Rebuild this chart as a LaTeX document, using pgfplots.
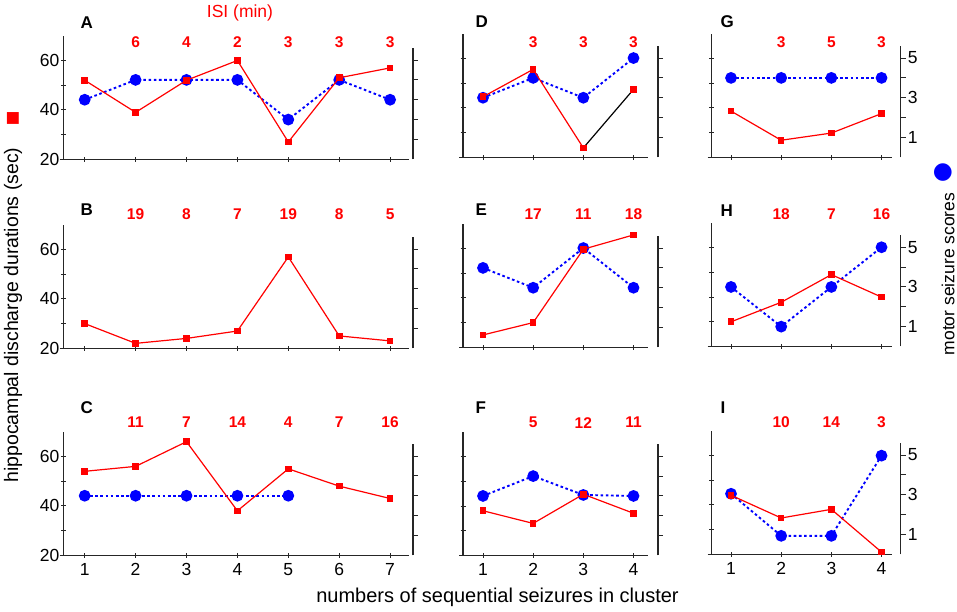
\documentclass[border=0pt]{standalone}
\usepackage{fontspec}
\setmainfont{Liberation Sans}
\newfontfamily\dejavu{DejaVu Sans}
\usepackage{pgfplots}
\pgfplotsset{compat=1.18}
\definecolor{myred}{RGB}{255,0,0}
\definecolor{myblue}{RGB}{0,0,255}
\pgfplotsset{
 base/.style={anchor=south west, clip=false,
   tick align=outside, major tick length=5pt,
   every tick/.style={line width=1pt, black!85},
   /pgf/number format/assume math mode=true,
   tick label style={font=\fontsize{17.5}{18}\selectfont},
 },
 lefts/.style={base, ymin=20, ymax=70, y=2.47pt,
   axis x line=bottom, axis y line=left,
   axis line style={-, line width=1.2pt, black!85},
   x axis line style={shorten <=-4pt},
   ytick={20,30,40,50,60}, yticklabels={20,,40,,60},
   yticklabel style={inner sep=1.5pt},
   xticklabel style={inner sep=5pt},
 },
 rights/.style={base, ymin=0, ymax=5.6, y=19.85pt,
   axis x line=none, axis y line*=right,
   axis line style={-, line width=1.2pt, black!85},
   ytick={1,2,3,4,5}, yticklabels={},
   yticklabel style={inner sep=2pt},
 },
 c1/.style={x=50.9pt, xmin=0.5835, xtick={1,...,7}},
 c2/.style={x=50.17pt, xmin=0.6014, xtick={1,...,4}, yticklabels={}},
 c3/.style={x=50.17pt, xmin=0.611, xtick={1,...,4}, yticklabels={}},
 nox/.style={xticklabels={}},
 redline/.style={myred, line width=1.2pt, mark=square*, mark size=2.7pt, mark options={solid}},
 blueline/.style={myblue, line width=1.9pt, dash pattern=on 2.6pt off 2.6pt, mark=*, mark size=4.9pt, mark options={solid}},
}
\tikzset{
 isi/.style={myred, font=\fontsize{15.5}{16}\selectfont\bfseries},
 letter/.style={anchor=west, font=\fontsize{17}{18}\selectfont\bfseries},
}
\begin{document}
\begin{tikzpicture}
\useasboundingbox (0pt,0pt) rectangle (957pt,612pt);

% ---------- A ----------
\begin{axis}[rights, c1, xmax=7.45, at={(63.5pt,452.7pt)}]
\addplot[blueline] coordinates {(1,3)(2,4)(3,4)(4,4)(5,2)(6,4)(7,3)};
\end{axis}
\begin{axis}[lefts, c1, nox, xmax=7.377, at={(63.5pt,452.7pt)}]
\addplot[redline] coordinates {(1,52)(2,39)(3,52)(4,60)(5,27)(6,53)(7,57)};
\node[isi] at (axis cs:2,67.3) {6};
\node[isi] at (axis cs:3,67.3) {4};
\node[isi] at (axis cs:4,67.3) {2};
\node[isi] at (axis cs:5,67.3) {3};
\node[isi] at (axis cs:6,67.3) {3};
\node[isi] at (axis cs:7,67.3) {3};
\end{axis}

% ---------- B ----------
\begin{axis}[rights, c1, xmax=7.45, at={(63.5pt,263.7pt)}]
\addplot[draw=none] coordinates {(1,0)};
\end{axis}
\begin{axis}[lefts, c1, nox, xmax=7.377, at={(63.5pt,263.7pt)}]
\addplot[redline] coordinates {(1,30)(2,22)(3,24)(4,27)(5,57)(6,25)(7,23)};
\node[isi] at (axis cs:2,74.4) {19};
\node[isi] at (axis cs:3,74.4) {8};
\node[isi] at (axis cs:4,74.4) {7};
\node[isi] at (axis cs:5,74.4) {19};
\node[isi] at (axis cs:6,74.4) {8};
\node[isi] at (axis cs:7,74.4) {5};
\end{axis}

% ---------- C ----------
\begin{axis}[rights, c1, xmax=7.45, at={(63.5pt,56.7pt)}]
\addplot[blueline] coordinates {(1,3)(2,3)(3,3)(4,3)(5,3)};
\end{axis}
\begin{axis}[lefts, c1, xmax=7.377, at={(63.5pt,56.7pt)}]
\addplot[redline] coordinates {(1,54)(2,56)(3,66)(4,38)(5,55)(6,48)(7,43)};
\node[isi] at (axis cs:2,73.7) {11};
\node[isi] at (axis cs:3,73.7) {7};
\node[isi] at (axis cs:4,73.7) {14};
\node[isi] at (axis cs:5,73.7) {4};
\node[isi] at (axis cs:6,73.7) {7};
\node[isi] at (axis cs:7,73.7) {16};
\end{axis}

% ---------- D ----------
\begin{axis}[rights, c2, xmax=4.488, at={(463pt,454.7pt)}]
\addplot[blueline] coordinates {(1,3)(2,4)(3,3)(4,5)};
\end{axis}
\begin{axis}[lefts, c2, nox, xmax=4.295, at={(463pt,454.7pt)}]
\addplot[black, line width=1.2pt] coordinates {(3,23.8)(4,47.5)};
\addplot[redline] coordinates {(1,44.5)(2,55.6)(3,23.8)};
\addplot[redline, only marks] coordinates {(4,47.5)};
\node[isi] at (axis cs:2,66.5) {3};
\node[isi] at (axis cs:3,66.5) {3};
\node[isi] at (axis cs:4,66.5) {3};
\end{axis}

% ---------- E ----------
\begin{axis}[rights, c2, xmax=4.488, at={(463pt,264.7pt)}]
\addplot[blueline] coordinates {(1,4)(2,3)(3,5)(4,3)};
\end{axis}
\begin{axis}[lefts, c2, nox, xmax=4.295, at={(463pt,264.7pt)}]
\addplot[redline] coordinates {(1,25)(2,30)(3,59.7)(4,65.5)};
\node[isi] at (axis cs:2,74) {17};
\node[isi] at (axis cs:3,74) {11};
\node[isi] at (axis cs:4,74) {18};
\end{axis}

% ---------- F ----------
\begin{axis}[rights, c2, xmax=4.488, at={(463pt,56.5pt)}]
\addplot[blueline] coordinates {(1,3)(2,4)(3,3.05)(4,3)};
\end{axis}
\begin{axis}[lefts, c2, xmax=4.295, at={(463pt,56.5pt)}]
\addplot[redline] coordinates {(1,38.1)(2,33)(3,44.8)(4,37.1)};
\node[isi] at (axis cs:2,73.8) {5};
\node[isi] at (axis cs:3,73.8) {12};
\node[isi] at (axis cs:4,73.8) {11};
\end{axis}

% ---------- G ----------
\begin{axis}[rights, c3, yticklabels={1,,3,,5}, xmax=4.379, at={(711.5pt,454.7pt)}]
\addplot[blueline] coordinates {(1,4)(2,4)(3,4)(4,4)};
\end{axis}
\begin{axis}[lefts, c3, nox, xmax=4.203, at={(711.5pt,454.7pt)}]
\addplot[redline] coordinates {(1,38.7)(2,26.9)(3,29.8)(4,37.7)};
\node[isi] at (axis cs:2,66.5) {3};
\node[isi] at (axis cs:3,66.5) {5};
\node[isi] at (axis cs:4,66.5) {3};
\end{axis}

% ---------- H ----------
\begin{axis}[rights, c3, yticklabels={1,,3,,5}, xmax=4.379, at={(711.5pt,265.5pt)}]
\addplot[blueline] coordinates {(1,3)(2,1)(3,3)(4,5)};
\end{axis}
\begin{axis}[lefts, c3, nox, xmax=4.203, at={(711.5pt,265.5pt)}]
\addplot[redline] coordinates {(1,30)(2,37.9)(3,49.1)(4,40)};
\node[isi] at (axis cs:2,73.6) {18};
\node[isi] at (axis cs:3,73.6) {7};
\node[isi] at (axis cs:4,73.6) {16};
\end{axis}

% ---------- I ----------
\begin{axis}[rights, c3, yticklabels={1,,3,,5}, xmax=4.379, at={(711.5pt,57.7pt)}]
\addplot[blueline] coordinates {(1,3.05)(2,0.93)(3,0.93)(4,4.97)};
\end{axis}
\begin{axis}[lefts, c3, xmax=4.203, at={(711.5pt,57.7pt)}]
\addplot[redline] coordinates {(1,43.9)(2,34.7)(3,38.2)(4,20.9)};
\node[isi] at (axis cs:2,73.3) {10};
\node[isi] at (axis cs:3,73.3) {14};
\node[isi] at (axis cs:4,73.3) {3};
\end{axis}

% ---------- texts ----------
\node[letter] at (77pt,589pt) {A};
\node[letter] at (77pt,402pt) {B};
\node[letter] at (77pt,204pt) {C};
\node[letter] at (472pt,590pt) {D};
\node[letter] at (472pt,402pt) {E};
\node[letter] at (472pt,204pt) {F};
\node[letter] at (717pt,590pt) {G};
\node[letter] at (717pt,401pt) {H};
\node[letter] at (717pt,204pt) {I};

\node[myred, font=\fontsize{17.5}{18}\selectfont] at (240pt,599pt) {ISI (min)};
\node[rotate=90, font=\fontsize{19.5}{22}\selectfont] at (13pt,297pt) {hippocampal discharge durations (sec)};
\node[myred, font=\dejavu\fontsize{15.5}{16}\selectfont, inner sep=0pt] at (13pt,494pt) {■};
\node[rotate=90, font=\fontsize{17.5}{20}\selectfont] at (948pt,338pt) {motor seizure scores};
\node[myblue, font=\dejavu\fontsize{23}{24}\selectfont, inner sep=0pt] at (943pt,439pt) {●};
\node[font=\fontsize{20}{22}\selectfont] at (497.5pt,15pt) {numbers of sequential seizures in cluster};
\end{tikzpicture}
\end{document}
